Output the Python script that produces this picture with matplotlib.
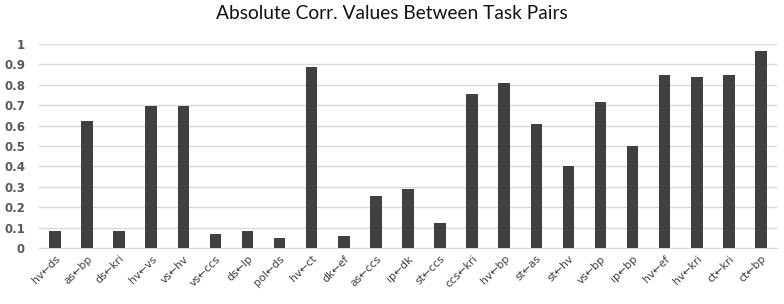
import matplotlib.pyplot as plt
import numpy as np

pairs = ['hv←ds', 'as←bp', 'ds←kri', 'hv←vs', 'vs←hv', 'vs←ccs', 'ds←lp', 'pol←ds',
         'hv←ct', 'dk←ef', 'as←ccs', 'ip←dk', 'st←ccs', 'ccs←kri', 'hv←bp', 'st←as',
         'st←hv', 'vs←bp', 'ip←bp', 'hv←ef', 'hv←kri', 'ct←kri', 'ct←bp']
corr = [0.083, 0.625, 0.083, 0.695, 0.695, 0.069, 0.085, 0.047,
        0.886, 0.06, 0.254, 0.292, 0.122, 0.755, 0.809, 0.608,
        0.40, 0.716, 0.50, 0.85, 0.838, 0.848, 0.964]
yticks = [0, 0.1, 0.2, 0.3, 0.4, 0.5, 0.6, 0.7, 0.8, 0.9, 1]
ytick_labels = ['0', '0.1', '0.2', '0.3', '0.4', '0.5', '0.6', '0.7', '0.8', '0.9', '1']

fig = plt.figure(figsize=(7.84, 3.04), dpi=100)
ax = fig.add_axes([0.0497, 0.184, 0.9413, 0.671])

x = np.arange(len(pairs))
ax.bar(x, corr, width=0.36, color='#404040', zorder=3)

ax.set_xlim(-0.5, len(pairs) - 0.5)
ax.set_ylim(0, 1)
ax.set_yticks(yticks)
ax.set_yticklabels(ytick_labels, fontsize=8.5, color='#595959', fontweight='bold')
ax.set_xticks(x)
ax.set_xticklabels(pairs, rotation=45, ha='right', rotation_mode='anchor',
                   fontsize=7.8, color='#404040')
ax.grid(axis='y', color='#d9d9d9', linewidth=1, zorder=0)
ax.tick_params(axis='both', length=0)
ax.tick_params(axis='y', pad=10)
ax.tick_params(axis='x', pad=4)
for s in ['top', 'right', 'left']:
    ax.spines[s].set_visible(False)
ax.spines['bottom'].set_color('#d9d9d9')

fig.suptitle('Absolute Corr. Values Between Task Pairs', y=0.985, fontsize=13.8,
             family='Lato', color='#111111')

fig.savefig('out.png', dpi=100)
